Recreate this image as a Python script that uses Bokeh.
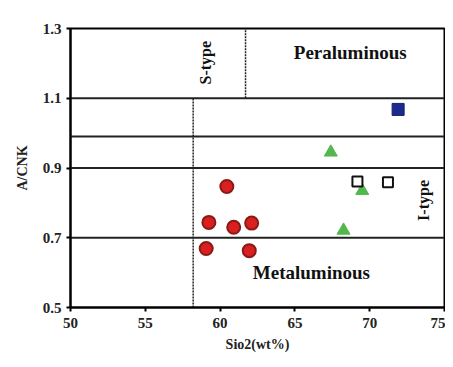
from bokeh.plotting import figure
from bokeh.models import ColumnDataSource, FixedTicker, Label
from bokeh.embed import file_html
from bokeh.resources import INLINE

# Data
red_x = [60.45, 59.25, 60.91, 62.11, 59.07, 61.95]
red_y = [0.847, 0.744, 0.730, 0.742, 0.669, 0.663]
green_x = [67.4, 69.5, 68.25]
green_y = [0.945, 0.835, 0.721]
open_x = [69.18, 71.22]
open_y = [0.861, 0.859]
blue_x = [71.9]
blue_y = [1.068]

h_lines = [1.1, 0.99, 0.9, 0.7]
v_low_x = 58.2      # dotted, from 0.5 to 1.1
v_high_x = 61.7     # dotted, from 1.1 to 1.3
x_ticks = [50, 55, 60, 65, 70, 75]
y_ticks = [0.5, 0.7, 0.9, 1.1, 1.3]

FONT = "Liberation Serif"

p = figure(width=445, height=359, x_range=(50, 75), y_range=(0.5, 1.3),
           output_backend="svg", toolbar_location=None,
           min_border_left=70, min_border_right=1, min_border_top=28, min_border_bottom=52)
p.grid.visible = False
p.outline_line_color = "black"
p.outline_line_width = 2
p.background_fill_color = "white"

for ax in (p.xaxis[0], p.yaxis[0]):
    ax.axis_line_color = "black"
    ax.axis_line_width = 2
    ax.major_tick_line_color = "black"
    ax.major_tick_line_width = 2
    ax.major_tick_out = 4
    ax.major_tick_in = 0
    ax.minor_tick_line_color = None
    ax.major_label_text_font = FONT
    ax.major_label_text_font_style = "bold"
    ax.major_label_text_font_size = "15px"
    ax.major_label_text_color = "#222222"
    ax.axis_label_text_font = FONT
    ax.axis_label_text_font_style = "bold"
    ax.axis_label_text_font_size = "14px"
    ax.axis_label_text_color = "#222222"

p.xaxis.ticker = FixedTicker(ticks=x_ticks)
p.yaxis.ticker = FixedTicker(ticks=y_ticks)
p.yaxis.major_label_overrides = {0.5: "0.5", 0.7: "0.7", 0.9: "0.9", 1.1: "1.1", 1.3: "1.3"}
p.xaxis.axis_label = "Sio2(wt%)"
p.yaxis.axis_label = "A/CNK"
p.xaxis.major_label_standoff = 6
p.xaxis.axis_label_standoff = 6
p.yaxis.axis_label_standoff = 10

# Boundary lines
hl = ColumnDataSource(dict(x0=[50] * len(h_lines), x1=[75] * len(h_lines), y=h_lines))
p.segment(x0="x0", y0="y", x1="x1", y1="y", source=hl, line_color="#222222", line_width=2)
p.segment(x0=[v_low_x], y0=[0.5], x1=[v_low_x], y1=[1.1], line_color="#222222",
          line_width=1.5, line_dash="2 1")
p.segment(x0=[v_high_x], y0=[1.1], x1=[v_high_x], y1=[1.3], line_color="#222222",
          line_width=1.5, line_dash="2 1")

# Points
p.scatter(red_x, red_y, marker="circle", size=13, fill_color="#d91f1f",
          line_color="#8a1a14", line_width=2)
p.scatter(green_x, green_y, marker="triangle", size=13, fill_color="#52b84e",
          line_color="#52b84e", line_width=1)
p.scatter(open_x, open_y, marker="square", size=10, fill_color="white",
          line_color="#111111", line_width=2)
p.scatter(blue_x, blue_y, marker="square", size=12, fill_color="#1c2a8e",
          line_color="#15206a", line_width=1)

# Labels
p.add_layout(Label(x=68.7, y=1.231, text="Peraluminous", text_font=FONT,
                   text_font_style="bold", text_font_size="19px", text_align="center",
                   text_baseline="middle", text_color="#111111"))
p.add_layout(Label(x=66.1, y=0.60, text="Metaluminous", text_font=FONT,
                   text_font_style="bold", text_font_size="19px", text_align="center",
                   text_baseline="middle", text_color="#111111"))
p.add_layout(Label(x=59.0, y=1.202, text="S-type", text_font=FONT, angle=1.5708,
                   text_font_style="bold", text_font_size="16px", text_align="center",
                   text_baseline="middle", text_color="#111111"))
p.add_layout(Label(x=73.6, y=0.807, text="I-type", text_font=FONT, angle=1.5708,
                   text_font_style="bold", text_font_size="16px", text_align="center",
                   text_baseline="middle", text_color="#111111"))

open("out.html", "w").write(file_html(p, INLINE))
